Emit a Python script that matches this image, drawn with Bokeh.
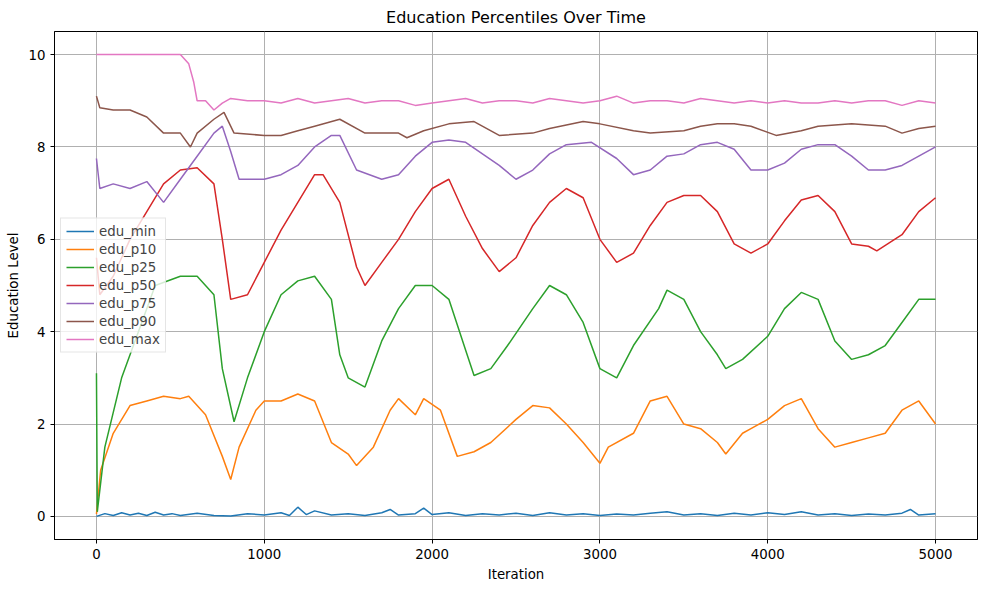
from bokeh.plotting import figure
from bokeh.models import Range1d, Legend, LegendItem
from bokeh.embed import file_html
from bokeh.resources import INLINE

# values
x_max = [0, 100, 200, 300, 400, 500, 550, 580, 600, 650, 700, 750, 800, 900, 1000, 1100, 1200, 1300, 1400, 1500,
         1600, 1700, 1800, 1900, 2000, 2100, 2200, 2300, 2400, 2500, 2600, 2700, 2800, 2900, 3000, 3100,
         3200, 3300, 3400, 3500, 3600, 3700, 3800, 3900, 4000, 4100, 4200, 4300, 4400, 4500, 4600, 4700,
         4800, 4900, 5000]
edu_max = [10, 10, 10, 10, 10, 10, 9.8, 9.4, 9.0, 9.0, 8.8, 8.95, 9.05, 9.0, 9.0, 8.95, 9.05, 8.95, 9.0, 9.05,
           8.95, 9.0, 9.0, 8.9, 8.95, 9.0, 9.05, 8.95, 9.0, 9.0, 8.95, 9.05, 9.0, 8.95, 9.0, 9.1,
           8.95, 9.0, 9.0, 8.95, 9.05, 9.0, 8.95, 9.0, 8.95, 9.0, 8.95, 8.95, 9.0, 8.95, 9.0, 9.0,
           8.9, 9.0, 8.95]

x_p90 = [0, 20, 100, 200, 300, 400, 500, 560, 600, 700, 760, 820, 1000, 1100, 1200, 1300, 1450, 1600, 1800, 1850,
         1950, 2100, 2250, 2400, 2600, 2700, 2900, 3000, 3200, 3300, 3500, 3600, 3700, 3800, 3900, 4050,
         4200, 4300, 4500, 4700, 4800, 4900, 5000]
edu_p90 = [9.1, 8.85, 8.8, 8.8, 8.65, 8.3, 8.3, 8.0, 8.3, 8.6, 8.75, 8.3, 8.25, 8.25, 8.35, 8.45, 8.6, 8.3, 8.3, 8.2,
           8.35, 8.5, 8.55, 8.25, 8.3, 8.4, 8.55, 8.5, 8.35, 8.3, 8.35, 8.45, 8.5, 8.5, 8.45, 8.25,
           8.35, 8.45, 8.5, 8.45, 8.3, 8.4, 8.45]

x_p75 = [0, 20, 100, 200, 300, 400, 500, 600, 700, 750, 800, 850, 1000, 1100, 1200, 1300, 1400, 1450, 1550, 1700,
         1800, 1900, 2000, 2100, 2200, 2400, 2500, 2600, 2700, 2800, 2950, 3100, 3200, 3300, 3400, 3500,
         3600, 3700, 3800, 3900, 4000, 4100, 4200, 4300, 4400, 4500, 4600, 4700, 4800, 4900, 5000]
edu_p75 = [7.75, 7.1, 7.2, 7.1, 7.25, 6.8, 7.3, 7.8, 8.3, 8.45, 7.9, 7.3, 7.3, 7.4, 7.6, 8.0, 8.25, 8.25, 7.5, 7.3,
           7.4, 7.8, 8.1, 8.15, 8.1, 7.6, 7.3, 7.5, 7.85, 8.05, 8.1, 7.75, 7.4, 7.5, 7.8, 7.85,
           8.05, 8.1, 7.95, 7.5, 7.5, 7.65, 7.95, 8.05, 8.05, 7.8, 7.5, 7.5, 7.6, 7.8, 8.0]

x_p50 = [0, 20, 100, 200, 300, 400, 500, 600, 700, 750, 800, 900, 1000, 1100, 1200, 1300, 1350, 1450, 1550, 1600,
         1700, 1800, 1900, 2000, 2100, 2200, 2300, 2400, 2500, 2600, 2700, 2800, 2900, 3000, 3100, 3200,
         3300, 3400, 3500, 3600, 3700, 3800, 3900, 4000, 4100, 4200, 4300, 4400, 4500, 4600, 4650, 4800,
         4900, 5000]
edu_p50 = [5.6, 4.8, 5.2, 6.0, 6.6, 7.2, 7.5, 7.55, 7.2, 6.0, 4.7, 4.8, 5.5, 6.2, 6.8, 7.4, 7.4, 6.8, 5.4, 5.0,
           5.5, 6.0, 6.6, 7.1, 7.3, 6.5, 5.8, 5.3, 5.6, 6.3, 6.8, 7.1, 6.9, 6.0, 5.5, 5.7,
           6.3, 6.8, 6.95, 6.95, 6.6, 5.9, 5.7, 5.9, 6.4, 6.85, 6.95, 6.6, 5.9, 5.85, 5.75, 6.1,
           6.6, 6.9]

x_p25 = [0, 5, 50, 150, 250, 350, 500, 600, 700, 750, 820, 900, 1000, 1100, 1200, 1300, 1400, 1450, 1500, 1600,
         1700, 1800, 1900, 2000, 2100, 2200, 2250, 2350, 2450, 2600, 2700, 2800, 2900, 3000, 3100, 3200,
         3350, 3400, 3500, 3600, 3700, 3750, 3850, 4000, 4100, 4200, 4300, 4400, 4500, 4600, 4700, 4800,
         4900, 5000]
edu_p25 = [3.1, 0.1, 1.5, 3.0, 4.0, 5.0, 5.2, 5.2, 4.8, 3.2, 2.05, 3.0, 4.0, 4.8, 5.1, 5.2, 4.7, 3.5, 3.0, 2.8,
           3.8, 4.5, 5.0, 5.0, 4.7, 3.6, 3.05, 3.2, 3.7, 4.5, 5.0, 4.8, 4.2, 3.2, 3.0, 3.7,
           4.5, 4.9, 4.7, 4.0, 3.5, 3.2, 3.4, 3.9, 4.5, 4.85, 4.7, 3.8, 3.4, 3.5, 3.7, 4.2,
           4.7, 4.7]

x_p10 = [0, 25, 100, 200, 300, 400, 500, 550, 650, 750, 800, 850, 950, 1000, 1100, 1200, 1300, 1400, 1500, 1550,
         1650, 1750, 1800, 1900, 1950, 2050, 2150, 2250, 2350, 2500, 2600, 2700, 2800, 2900, 3000, 3050,
         3200, 3300, 3400, 3500, 3600, 3700, 3750, 3850, 3900, 4000, 4100, 4200, 4300, 4400, 4500, 4600,
         4700, 4800, 4900, 5000]
edu_p10 = [0.05, 1.0, 1.8, 2.4, 2.5, 2.6, 2.55, 2.6, 2.2, 1.3, 0.8, 1.5, 2.3, 2.5, 2.5, 2.65, 2.5, 1.6, 1.35, 1.1,
           1.5, 2.3, 2.55, 2.2, 2.55, 2.3, 1.3, 1.4, 1.6, 2.1, 2.4, 2.35, 2.0, 1.6, 1.15, 1.5,
           1.8, 2.5, 2.6, 2.0, 1.9, 1.6, 1.35, 1.8, 1.9, 2.1, 2.4, 2.55, 1.9, 1.5, 1.6, 1.7,
           1.8, 2.3, 2.5, 2.0]

x_min = [0, 50, 100, 150, 200, 250, 300, 350, 400, 450, 500, 600, 700, 800, 900, 1000, 1100, 1150, 1200, 1250,
         1300, 1400, 1500, 1600, 1700, 1750, 1800, 1900, 1950, 2000, 2100, 2200, 2300, 2400, 2500, 2600,
         2700, 2800, 2900, 3000, 3100, 3200, 3300, 3400, 3500, 3600, 3700, 3800, 3900, 4000, 4100, 4200,
         4300, 4400, 4500, 4600, 4700, 4800, 4850, 4900, 5000]
edu_min = [0.0, 0.06, 0.02, 0.08, 0.03, 0.07, 0.02, 0.09, 0.03, 0.06, 0.02, 0.07, 0.02, 0.01, 0.06, 0.03, 0.08, 0.02, 0.2, 0.04,
           0.12, 0.03, 0.06, 0.02, 0.08, 0.15, 0.03, 0.06, 0.18, 0.04, 0.08, 0.02, 0.06, 0.03, 0.07, 0.02,
           0.08, 0.03, 0.06, 0.02, 0.05, 0.03, 0.07, 0.1, 0.03, 0.06, 0.02, 0.07, 0.03, 0.08, 0.04, 0.1,
           0.03, 0.06, 0.02, 0.05, 0.03, 0.07, 0.15, 0.03, 0.06]

series = [
    ("edu_min", x_min, edu_min, "#1f77b4"),
    ("edu_p10", x_p10, edu_p10, "#ff7f0e"),
    ("edu_p25", x_p25, edu_p25, "#2ca02c"),
    ("edu_p50", x_p50, edu_p50, "#d62728"),
    ("edu_p75", x_p75, edu_p75, "#9467bd"),
    ("edu_p90", x_p90, edu_p90, "#8c564b"),
    ("edu_max", x_max, edu_max, "#e377c2"),
]

font = "DejaVu Sans"
p = figure(width=984, height=584, output_backend="svg", toolbar_location=None,
           title="Education Percentiles Over Time",
           x_range=Range1d(-250, 5250), y_range=Range1d(-0.5, 10.5))
p.title.align = "center"
p.title.text_font = font
p.title.text_font_size = "12pt"
p.title.text_font_style = "normal"
p.title.text_color = "black"
p.xaxis.axis_label = "Iteration"
p.yaxis.axis_label = "Education Level"
for ax in (p.xaxis, p.yaxis):
    ax.axis_label_text_font = font
    ax.axis_label_text_font_style = "normal"
    ax.axis_label_text_font_size = "10pt"
    ax.axis_label_text_color = "black"
    ax.major_label_text_font = font
    ax.major_label_text_font_size = "10pt"
    ax.major_label_text_color = "black"
    ax.minor_tick_line_color = None
    ax.major_tick_in = 0
    ax.major_tick_out = 4
    ax.major_tick_line_color = "black"
    ax.axis_line_color = "black"
p.xaxis.ticker = [0, 1000, 2000, 3000, 4000, 5000]
p.yaxis.ticker = [0, 2, 4, 6, 8, 10]
p.xgrid.grid_line_color = "#b0b0b0"
p.ygrid.grid_line_color = "#b0b0b0"
p.outline_line_color = "black"
p.min_border_left = 54
p.min_border_right = 7
p.min_border_top = 12
p.min_border_bottom = 42

items = []
for name, xs, ys, c in series:
    r = p.line(xs, ys, line_color=c, line_width=1.5)
    items.append(LegendItem(label=name, renderers=[r]))

legend = Legend(items=items, location="left", label_text_font=font, label_text_font_size="10pt",
                border_line_color="#cccccc", background_fill_alpha=0.8, spacing=3, padding=5,
                glyph_width=28, label_height=15, glyph_height=15, margin=6)
p.add_layout(legend)

open("out.html", "w").write(file_html(p, INLINE))
